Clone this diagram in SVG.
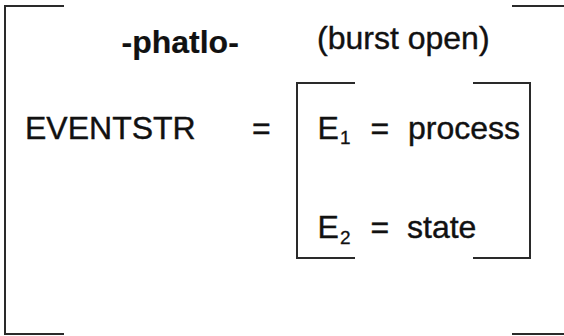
<svg xmlns="http://www.w3.org/2000/svg" width="564" height="336" viewBox="0 0 564 336">
  <style>
    .br { fill: none; stroke: #2a2a2a; stroke-width: 2; }
    .t { font-family: "Liberation Sans", Arial, sans-serif; font-size: 32px; fill: #111; stroke: #111; stroke-width: 0.4; }
    .b { font-weight: bold; stroke-width: 0.2; }
    .sub { font-family: "Liberation Sans", Arial, sans-serif; font-size: 19px; fill: #111; stroke: #111; stroke-width: 0.3; }
  </style>
  <rect width="564" height="336" fill="#ffffff"/>
  <g id="outer-bracket">
    <polyline class="br" points="64,6 5,6 5,334 64,334"/>
    <polyline class="br" points="512,6 566,6"/>
    <polyline class="br" points="512,334 566,334"/>
  </g>
  <g id="heading">
    <text class="t b" x="121.5" y="53">-phatlo-</text>
    <text class="t" x="317" y="49">(burst open)</text>
  </g>
  <g id="eventstr">
    <text class="t" x="25" y="139">EVENTSTR</text>
    <text class="t" x="252" y="139">=</text>
  </g>
  <g id="inner-bracket">
    <polyline class="br" points="355,83 297,83 297,258 355,258"/>
    <polyline class="br" points="473,83 530,83 530,258 473,258"/>
  </g>
  <g id="e1">
    <text class="t" x="317.5" y="139">E</text>
    <text class="sub" x="340" y="144">1</text>
    <text class="t" x="370.5" y="139">=</text>
    <text class="t" x="408" y="139">process</text>
  </g>
  <g id="e2">
    <text class="t" x="317.5" y="238">E</text>
    <text class="sub" x="340" y="244">2</text>
    <text class="t" x="370.5" y="238">=</text>
    <text class="t" x="407" y="238">state</text>
  </g>
</svg>
